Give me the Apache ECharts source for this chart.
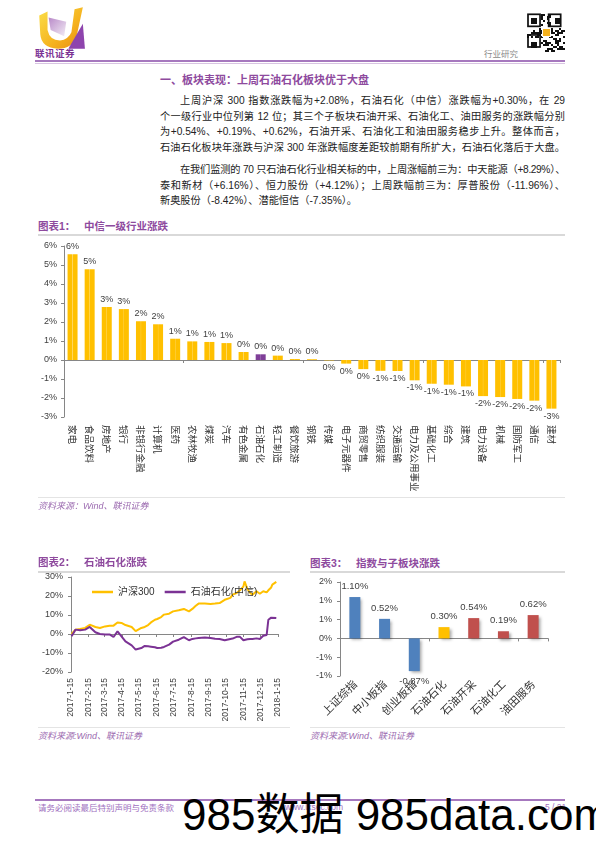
<!DOCTYPE html>
<html><head><meta charset="utf-8">
<script src="https://cdn.jsdelivr.net/npm/echarts@6/dist/echarts.min.js"></script>
<style>
html,body{margin:0;padding:0;background:#fff;}
body{width:596px;height:843px;position:relative;overflow:hidden;font-family:"Liberation Sans","Noto Sans CJK SC",sans-serif;}
.abs{position:absolute;}
.ttl{position:absolute;color:#8E4A9E;font-weight:bold;font-size:10.5px;line-height:14px;white-space:nowrap;font-family:"Liberation Sans","Noto Sans CJK SC",sans-serif;}
.src{position:absolute;color:#9C6BB0;font-style:italic;font-size:9px;line-height:12px;white-space:nowrap;}
.gl{position:absolute;height:2px;background:#D9D9D9;}
.body{position:absolute;left:160px;width:405px;font-size:10.2px;color:#222;line-height:15.7px;}
.body div{text-align:justify;text-align-last:justify;}
.body div.last{text-align-last:left;}
.body div.ind{padding-left:20px;}
.body div.tight{letter-spacing:-0.4px;}
</style></head><body>

<!-- header -->
<svg class="abs" style="left:33px;top:5px" width="54" height="46" viewBox="0 0 52 44">
  <defs>
    <linearGradient id="gy" x1="0" y1="0" x2="1" y2="1">
      <stop offset="0" stop-color="#FBE04A"/><stop offset="0.6" stop-color="#F5B21E"/><stop offset="1" stop-color="#E88A12"/>
    </linearGradient>
    <linearGradient id="gp" x1="0" y1="0" x2="1" y2="1">
      <stop offset="0" stop-color="#B98AC9"/><stop offset="1" stop-color="#F3EDF5"/>
    </linearGradient>
  </defs>
  <path d="M6 10 L14 6 L14 24 Q16 34 26 34 Q34 33 37 26 L40 4 L48 2 L42 30 Q38 42 24 42 Q8 41 7 28 Z" fill="url(#gy)"/>
  <path d="M15 12 L32 16 L30 30 L17 24 Z" fill="url(#gp)"/>
  <path d="M34 42 L48 18 L50 42 Z" fill="#8E44AD"/>
</svg>
<div class="abs" style="left:35px;top:48px;font-size:9.5px;font-weight:bold;color:#7B3294;letter-spacing:0.5px;line-height:11px;font-family:'Noto Sans CJK SC'">联讯证券</div>
<div class="abs" style="left:484px;top:48px;font-size:8.5px;color:#8a8a8a;line-height:11px;font-family:'Noto Sans CJK SC'">行业研究</div>
<svg id="qr" class="abs" style="left:527px;top:9px" width="38" height="48"></svg>
<div class="abs" style="left:35px;top:60px;width:530px;height:2px;background:#A678BE"></div>
<div class="abs" style="left:35px;top:63px;width:530px;height:1px;background:#D8C4E2"></div>

<!-- heading & text -->
<div class="abs" style="left:160px;top:72px;font-size:11px;font-weight:bold;color:#8E4A9E;line-height:14px;font-family:'Noto Sans CJK SC'">一、板块表现：上周石油石化板块优于大盘</div>
<div class="body" style="top:93px">
  <div class="ind">上周沪深 300 指数涨跌幅为+2.08%，石油石化（中信）涨跌幅为+0.30%，在 29</div>
  <div>个一级行业中位列第 12 位；其三个子板块石油开采、石油化工、油田服务的涨跌幅分别</div>
  <div>为+0.54%、+0.19%、+0.62%，石油开采、石油化工和油田服务稳步上升。整体而言，</div>
  <div>石油石化板块年涨跌与沪深 300 年涨跌幅度差距较前期有所扩大，石油石化落后于大盘。</div>
</div>
<div class="body" style="top:162px">
  <div class="ind tight">在我们监测的 70 只石油石化行业相关标的中，上周涨幅前三为：中天能源（+8.29%）、</div>
  <div>泰和新材（+6.16%）、恒力股份（+4.12%）；上周跌幅前三为：厚普股份（-11.96%）、</div>
  <div class="last">新奥股份（-8.42%）、潜能恒信（-7.35%）。</div>
</div>

<!-- chart 1 -->
<div class="ttl" style="left:38px;top:219px">图表1：&nbsp;&nbsp;&nbsp;中信一级行业涨跌</div>
<div class="gl" style="left:38px;top:234px;width:527px"></div>
<div id="c1" class="abs" style="left:30px;top:236px;width:545px;height:265px"></div>
<div class="gl" style="left:38px;top:497px;width:527px;height:1px;background:#E4E4E4"></div>
<div class="src" style="left:38px;top:500px">资料来源：Wind、联讯证券</div>

<!-- chart 2 -->
<div class="ttl" style="left:38px;top:555px">图表2：&nbsp;&nbsp;&nbsp;石油石化涨跌</div>
<div class="gl" style="left:38px;top:571px;width:252px"></div>
<div id="c2" class="abs" style="left:30px;top:572px;width:265px;height:155px"></div>
<div class="gl" style="left:38px;top:727px;width:252px;height:1px;background:#E4E4E4"></div>
<div class="src" style="left:38px;top:730px">资料来源:Wind、联讯证券</div>

<!-- chart 3 -->
<div class="ttl" style="left:310px;top:556px">图表3：&nbsp;&nbsp;&nbsp;指数与子板块涨跌</div>
<div class="gl" style="left:310px;top:571px;width:255px"></div>
<div id="c3" class="abs" style="left:300px;top:572px;width:270px;height:155px"></div>
<div class="gl" style="left:310px;top:727px;width:255px;height:1px;background:#E4E4E4"></div>
<div class="src" style="left:310px;top:730px">资料来源:Wind、联讯证券</div>

<!-- footer -->
<div class="abs" style="left:35px;top:799px;width:530px;height:2px;background:#A678BE"></div>
<div class="abs" style="left:38px;top:802px;font-size:8.5px;color:#A070C0;line-height:11px;font-family:'Noto Sans CJK SC'">请务必阅读最后特别声明与免责条款</div>
<div class="abs" style="left:285px;top:802px;font-size:8.5px;color:#A070C0;line-height:11px">www.lxsec.com</div>
<div class="abs" style="left:545px;top:802px;font-size:8.5px;color:#A070C0;line-height:11px">5 / 21</div>
<div class="abs" style="left:182px;top:792px;font-size:44px;line-height:46px;color:#000;white-space:nowrap;font-family:'Liberation Sans','Noto Sans CJK SC'">985数据 985data.com</div>

<script>
// ---------- data ----------
const industries = ['家电','食品饮料','房地产','银行','非银行金融','计算机','医药','农林牧渔','煤炭','汽车','有色金属','石油石化','轻工制造','餐饮旅游','钢铁','传媒','电子元器件','商贸零售','纺织服装','交通运输','电力及公用事业','基础化工','综合','建筑','电力设备','机械','国防军工','通信','建材'];
const industryChange = [5.56,4.77,2.79,2.68,2.04,1.88,1.12,0.98,0.95,0.89,0.42,0.30,0.23,0.05,0.04,-0.02,-0.19,-0.48,-0.57,-0.58,-1.07,-1.25,-1.30,-1.39,-1.90,-1.95,-2.05,-2.14,-2.56];
const industryTicks = [-3,6,1]; // min, max, step (%)

const lineDates = ['2017-1-16','2017-1-23','2017-1-31','2017-2-9','2017-2-17','2017-2-27','2017-3-7','2017-3-16','2017-3-24','2017-3-31','2017-4-7','2017-4-14','2017-4-21','2017-5-2','2017-5-9','2017-5-12','2017-5-19','2017-5-25','2017-5-31','2017-6-5','2017-6-12','2017-6-16','2017-6-23','2017-6-28','2017-7-7','2017-7-14','2017-7-24','2017-8-2','2017-8-11','2017-8-17','2017-8-23','2017-8-28','2017-9-8','2017-9-18','2017-9-26','2017-10-4','2017-10-13','2017-10-23','2017-10-27','2017-11-3','2017-11-9','2017-11-15','2017-11-17','2017-11-22','2017-11-27','2017-12-1','2017-12-8','2017-12-14','2017-12-20','2017-12-26','2017-12-28','2017-12-29','2018-1-3','2018-1-5','2018-1-12'];
const hs300 = [0,2.3,2.6,3.2,4.9,3.7,3.2,4.0,4.4,4.4,6.1,5.8,4.7,3.7,1.5,1.4,3.2,3.7,4.7,6.1,7.5,7.9,8.9,10.2,10.7,11.9,12.5,13.2,11.9,13.2,14.9,16.0,16.0,15.8,16.0,16.3,18.0,19.0,20.7,21.6,23.0,25.0,27.7,23.7,21.6,20.7,22.5,21.2,22.5,21.9,22.5,23.0,24.5,26.0,27.4];
const petro = [-1.2,2.3,2.0,2.3,3.7,0.9,0,-0.3,-0.2,-1.6,1.4,-1.2,-3.9,-6.0,-8.2,-8.8,-7.4,-6.3,-6.5,-6.7,-7.0,-7.4,-7.2,-6.8,-5.6,-4.0,-3.0,-1.6,-3.3,-2.6,-2.3,-2.1,-1.9,-2.1,-2.5,-2.6,-3.3,-2.6,-2.4,-1.5,-1.5,-3.3,-3.0,-2.8,-2.6,-2.6,-2.3,-2.6,-0.9,-0.5,0,7.5,8.6,8.5,8.4];
const lineTickLabels = ['2017-1-15','2017-2-15','2017-3-15','2017-4-15','2017-5-15','2017-6-15','2017-7-15','2017-8-15','2017-9-15','2017-10-15','2017-11-15','2017-12-15','2018-1-15'];
const lineNames = ['沪深300','石油石化(中信)'];

const subCats = ['上证综指','中小板指','创业板指','石油石化','石油开采','石油化工','油田服务'];
const subChange = [1.10,0.52,-0.87,0.30,0.54,0.19,0.62];
const subGroup = ['index','index','index','sector','sub','sub','sub'];

// ---------- QR decoration ----------
(function(){
  const svg = document.getElementById('qr'); const n=19, s=2; let h='';
  let seed=7; const rnd=()=>{seed=(seed*9301+49297)%233280; return seed/233280;};
  for(let r=0;r<n;r++)for(let c=0;c<n;c++){ if(rnd()>0.5) h+=`<rect x="${c*s}" y="${r*s+5}" width="${s}" height="${s}" fill="#111"/>`; }
  const finder=(x,y)=>`<rect x="${x}" y="${y}" width="14" height="14" fill="#fff"/><rect x="${x}" y="${y}" width="14" height="14" fill="none" stroke="#111" stroke-width="2" transform="translate(1,1) scale(0.86)"/><rect x="${x+4}" y="${y+4}" width="6" height="6" fill="#111"/>`;
  h+=finder(0,5)+finder(24,5)+finder(0,29);
  h+=`<rect x="15" y="19" width="9" height="9" fill="#fff"/><rect x="16" y="20" width="7" height="7" fill="#F5B21E"/>`;
  svg.innerHTML=h;
})();

const FONT = '"Liberation Sans","Noto Sans CJK SC",sans-serif';
const AX = '#868686';
const roundPct = v => { let r = Math.sign(v)*Math.round(Math.abs(v)); if (r===0) r=0; return r+'%'; };

// ---------- chart 1 ----------
const c1 = echarts.init(document.getElementById('c1'), null, {renderer:'canvas'});
const barGrad = (a,b) => new echarts.graphic.LinearGradient(0,0,1,0,[
  {offset:0,color:a},{offset:0.44,color:a},{offset:0.5,color:b},{offset:0.56,color:a},{offset:1,color:a}]);
c1.setOption({
  animation:false,
  grid:{left:34,right:15,top:10,bottom:84},
  xAxis:[
    {type:'category',data:industries,position:'bottom',axisLine:{show:false,onZero:false},axisTick:{show:false},
     axisLabel:{interval:0,rotate:-90,margin:8,fontSize:9.5,color:'#333',fontFamily:'"Noto Sans CJK SC",sans-serif'}},
    {type:'category',data:industries,position:'bottom',axisLine:{show:true,onZero:true,lineStyle:{color:AX,width:1}},
     axisTick:{show:true,length:3,lineStyle:{color:AX}},axisLabel:{show:false}}
  ],
  yAxis:{type:'value',min:industryTicks[0],max:industryTicks[1],interval:industryTicks[2],
    axisLine:{show:true,lineStyle:{color:AX}},axisTick:{show:true,length:3,lineStyle:{color:AX}},splitLine:{show:false},
    axisLabel:{formatter:'{value}%',fontSize:9,color:'#404040',margin:7,fontFamily:FONT}},
  series:[{type:'bar',barWidth:10,xAxisIndex:0,
    data:industryChange.map((v,i)=>({value:v,
      itemStyle:{color: industries[i]==='石油石化' ? barGrad('#7F3F98','#A070B8') : barGrad('#FFC000','#FFD966')},
      label:{position: v<0?'bottom':'top'}})),
    label:{show:true,distance:3,fontSize:9,color:'#404040',fontFamily:FONT,formatter:p=>roundPct(p.value)}
  }]
});

// ---------- chart 2 ----------
const dayOf = s => { const [y,m,d]=s.split('-').map(Number); return Date.UTC(y,m-1,d)/864e5; };
const d0 = dayOf(lineTickLabels[0]);
const tickDays = lineTickLabels.map(s=>dayOf(s)-d0);
const labelByDay = {}; lineTickLabels.forEach((s,i)=>labelByDay[tickDays[i]]=s);
const xs = lineDates.map(s=>dayOf(s)-d0);
const c2 = echarts.init(document.getElementById('c2'));
c2.setOption({
  animation:false,
  legend:{data:lineNames,left:57,top:10,icon:'rect',itemWidth:21,itemHeight:2.5,itemGap:10,
    textStyle:{fontSize:10,color:'#333',fontFamily:FONT}},
  grid:{left:41,right:17,top:5,bottom:55},
  xAxis:[
    {type:'value',min:0,max:tickDays[tickDays.length-1],position:'bottom',axisLine:{show:false,onZero:false},axisTick:{show:false},splitLine:{show:false},
     axisLabel:{customValues:tickDays,rotate:90,margin:6,fontSize:8.5,color:'#404040',fontFamily:FONT,formatter:v=>labelByDay[v]||''}},
    {type:'value',min:0,max:tickDays[tickDays.length-1],position:'bottom',axisLine:{show:true,onZero:true,lineStyle:{color:AX}},
     axisTick:{show:true,length:3,customValues:tickDays,lineStyle:{color:AX}},axisLabel:{show:false},splitLine:{show:false}}
  ],
  yAxis:{type:'value',min:-20,max:30,interval:10,axisLine:{show:true,lineStyle:{color:AX}},axisTick:{show:true,length:3,lineStyle:{color:AX}},
    splitLine:{show:false},axisLabel:{formatter:'{value}%',fontSize:9,color:'#404040',margin:8,fontFamily:FONT}},
  series:[
    {name:lineNames[0],type:'line',symbol:'none',data:xs.map((x,i)=>[x,hs300[i]]),lineStyle:{color:'#FFC000',width:2},itemStyle:{color:'#FFC000'}},
    {name:lineNames[1],type:'line',symbol:'none',data:xs.map((x,i)=>[x,petro[i]]),lineStyle:{color:'#7B3294',width:2},itemStyle:{color:'#7B3294'}}
  ]
});

// ---------- chart 3 ----------
const groupColor = {index:'#4F81BD',sector:'#FFC000',sub:'#C0504D'};
const c3 = echarts.init(document.getElementById('c3'));
c3.setOption({
  animation:false,
  grid:{left:40,right:22,top:10,bottom:51},
  xAxis:[
    {type:'category',data:subCats,position:'bottom',axisLine:{show:false,onZero:false},axisTick:{show:false},
     axisLabel:{interval:0,rotate:45,margin:6,fontSize:11,color:'#333',fontFamily:'"Noto Sans CJK SC",sans-serif'}},
    {type:'category',data:subCats,position:'bottom',axisLine:{show:true,onZero:true,lineStyle:{color:AX}},
     axisTick:{show:true,length:3,lineStyle:{color:AX}},axisLabel:{show:false}}
  ],
  yAxis:{type:'value',min:-1,max:1.5,interval:0.5,axisLine:{show:true,lineStyle:{color:AX}},axisTick:{show:true,length:3,lineStyle:{color:AX}},
    splitLine:{show:false},axisLabel:{formatter:v=>roundPct(v),fontSize:9,color:'#404040',margin:8,fontFamily:FONT}},
  series:[{type:'bar',barWidth:11,
    data:subChange.map((v,i)=>({value:v,itemStyle:{color:groupColor[subGroup[i]]},label:{position:v<0?'bottom':'top'}})),
    itemStyle:{shadowBlur:3,shadowOffsetX:2,shadowOffsetY:2,shadowColor:'rgba(0,0,0,0.35)'},
    label:{show:true,distance:6,fontSize:9.5,color:'#404040',fontFamily:FONT,formatter:p=>p.value.toFixed(2)+'%'}
  }]
});
</script>
</body></html>
